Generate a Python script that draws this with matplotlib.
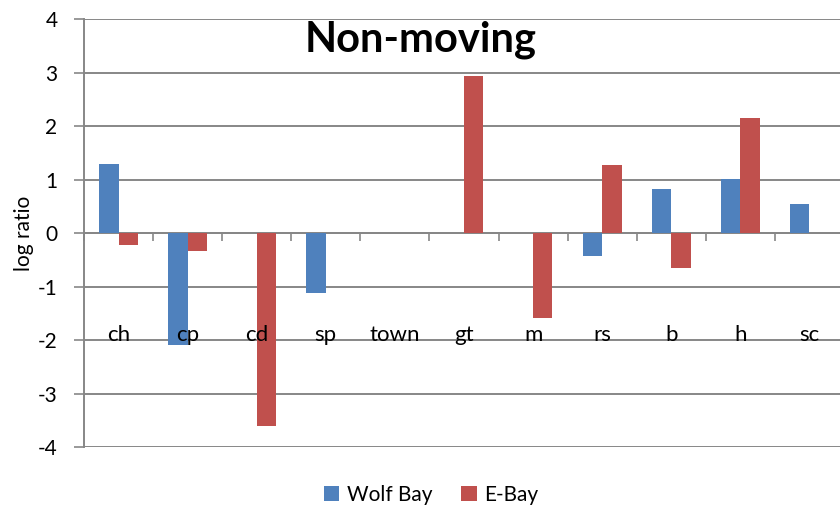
import matplotlib
matplotlib.use("Agg")
import matplotlib.pyplot as plt
import numpy as np

categories = ["ch", "cp", "cd", "sp", "town", "gt", "m", "rs", "b", "h", "sc"]
wolf_bay = [1.30, -2.09, 0.0, -1.11, 0.0, 0.0, 0.0, -0.42, 0.83, 1.01, 0.55]
e_bay = [-0.21, -0.34, -3.60, 0.0, 0.0, 2.94, -1.59, 1.27, -0.65, 2.16, 0.0]
yticks = [-4, -3, -2, -1, 0, 1, 2, 3, 4]

plt.rcParams['font.family'] = ['Lato', 'DejaVu Sans']
BLUE = "#4F81BD"
RED = "#C0504D"
GRID = "#878787"

fig = plt.figure(figsize=(8.4, 5.08), dpi=100)
left = 84 / 840
right = 844 / 840
bottom = 1 - 447.3 / 508
top = 1 - 19.3 / 508
ax = fig.add_axes([left, bottom, right - left, top - bottom])

n = len(categories)
x = np.arange(n)
w = 0.28
ax.bar(x - w / 2, wolf_bay, w, color=BLUE, linewidth=0, label="Wolf Bay", zorder=3)
ax.bar(x + w / 2, e_bay, w, color=RED, linewidth=0, label="E-Bay", zorder=3)

ax.set_xlim(-0.5, n - 0.5)
ax.set_ylim(-4, 4)
ax.set_yticks(yticks)
ax.set_yticklabels([str(t) for t in yticks], fontsize=15)
ax.yaxis.grid(True, color=GRID, linewidth=1.4, zorder=0)
ax.set_axisbelow(True)

for s in ["top", "right"]:
    ax.spines[s].set_visible(False)
ax.spines["left"].set_color(GRID)
ax.spines["left"].set_linewidth(1.4)
ax.spines["bottom"].set_position(("data", 0))
ax.spines["bottom"].set_color(GRID)
ax.spines["bottom"].set_linewidth(1.4)
ax.spines["bottom"].set_zorder(2)

ax.set_xticks(np.arange(n + 1) - 0.5)
ax.set_xticklabels([])
ax.tick_params(axis="x", direction="out", length=6, color=GRID, width=1.2)
ax.tick_params(axis="y", direction="out", length=7, color=GRID, width=1.2, pad=12)

for xi, c in zip(x, categories):
    ax.text(xi, -1.9, c, ha="center", va="center", fontsize=16, zorder=4)

ax.set_ylabel("log ratio", fontsize=15)
ax.yaxis.set_label_coords(-0.066, 0.5)

fig.text(421 / 840, 1 - 40 / 508, "Non-moving", ha="center", va="center",
         fontsize=30, fontweight="bold")

leg = fig.legend(loc="center", bbox_to_anchor=(431 / 840, 1 - 495 / 508), ncol=2,
                 frameon=False, fontsize=15, handlelength=0.75, handleheight=0.75,
                 handletextpad=0.35, columnspacing=1.4)

fig.savefig("out.png", dpi=100)
